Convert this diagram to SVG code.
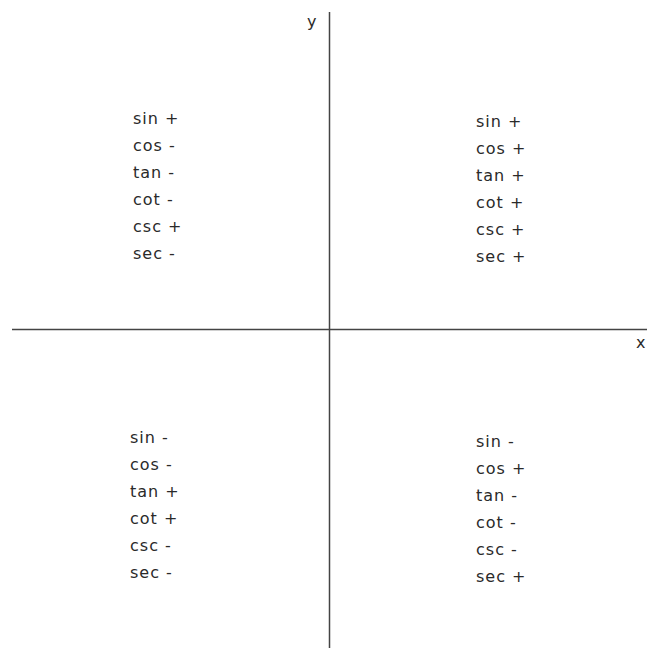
<svg xmlns="http://www.w3.org/2000/svg" width="647" height="648" viewBox="0 0 647 648">
<style>
.t{font-family:"DejaVu Sans",sans-serif;font-size:16px;letter-spacing:1px;fill:#2a2a2a}
.ax{stroke:#444;stroke-width:1.5;fill:none}
</style>
<rect width="647" height="648" fill="#fff"/>
<g id="connectors">
<line class="ax" x1="329.5" y1="12" x2="329.5" y2="648"/>
<line class="ax" x1="12" y1="329.5" x2="647" y2="329.5"/>
</g>
<g id="axis-y"><text class="t" x="307" y="27">y</text></g>
<g id="axis-x"><text class="t" x="636" y="348">x</text></g>
<g id="q2">
<text class="t" x="133" y="124">sin +</text>
<text class="t" x="133" y="151">cos -</text>
<text class="t" x="133" y="178">tan -</text>
<text class="t" x="133" y="205">cot -</text>
<text class="t" x="133" y="232">csc +</text>
<text class="t" x="133" y="259">sec -</text>
</g>
<g id="q1">
<text class="t" x="476" y="127">sin +</text>
<text class="t" x="476" y="154">cos +</text>
<text class="t" x="476" y="181">tan +</text>
<text class="t" x="476" y="208">cot +</text>
<text class="t" x="476" y="235">csc +</text>
<text class="t" x="476" y="262">sec +</text>
</g>
<g id="q3">
<text class="t" x="130" y="443">sin -</text>
<text class="t" x="130" y="470">cos -</text>
<text class="t" x="130" y="497">tan +</text>
<text class="t" x="130" y="524">cot +</text>
<text class="t" x="130" y="551">csc -</text>
<text class="t" x="130" y="578">sec -</text>
</g>
<g id="q4">
<text class="t" x="476" y="447">sin -</text>
<text class="t" x="476" y="474">cos +</text>
<text class="t" x="476" y="501">tan -</text>
<text class="t" x="476" y="528">cot -</text>
<text class="t" x="476" y="555">csc -</text>
<text class="t" x="476" y="582">sec +</text>
</g>
</svg>
